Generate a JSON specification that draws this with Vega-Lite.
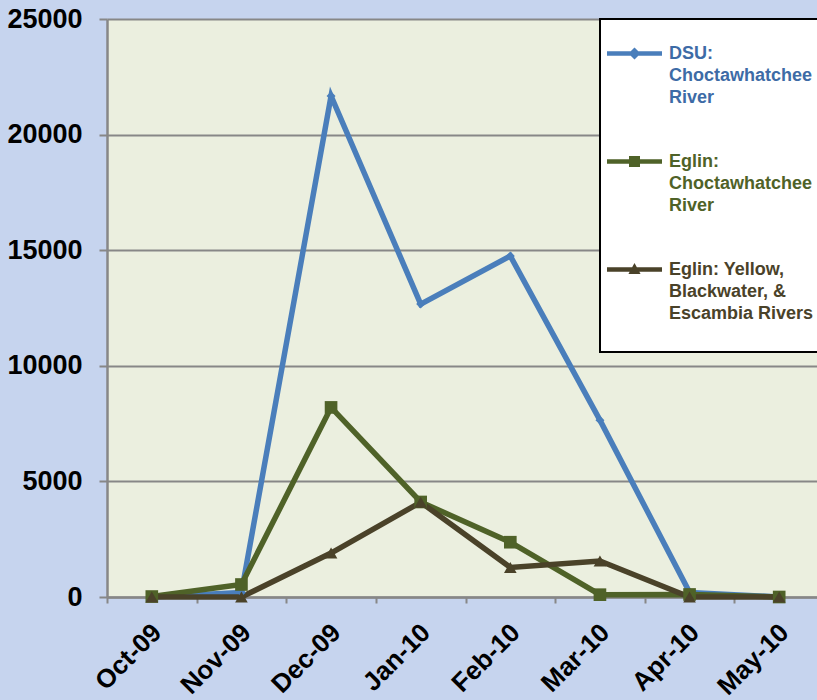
{
  "$schema": "https://vega.github.io/schema/vega-lite/v6.json",
  "width": 717,
  "height": 578,
  "autosize": "none",
  "padding": {"left": 107, "top": 19, "right": 0, "bottom": 103},
  "background": "#C6D4EE",
  "view": {"fill": "#EBEFDF", "stroke": null},
  "config": {
    "font": "Liberation Sans"
  },
  "data": {
    "values": [
      {"month": "Oct-09", "series": "DSU: Choctawhatchee River", "value": 0},
      {"month": "Nov-09", "series": "DSU: Choctawhatchee River", "value": 200},
      {"month": "Dec-09", "series": "DSU: Choctawhatchee River", "value": 21670},
      {"month": "Jan-10", "series": "DSU: Choctawhatchee River", "value": 12670},
      {"month": "Feb-10", "series": "DSU: Choctawhatchee River", "value": 14750},
      {"month": "Mar-10", "series": "DSU: Choctawhatchee River", "value": 7650},
      {"month": "Apr-10", "series": "DSU: Choctawhatchee River", "value": 200},
      {"month": "May-10", "series": "DSU: Choctawhatchee River", "value": 0},
      {"month": "Oct-09", "series": "Eglin: Choctawhatchee River", "value": 20},
      {"month": "Nov-09", "series": "Eglin: Choctawhatchee River", "value": 540},
      {"month": "Dec-09", "series": "Eglin: Choctawhatchee River", "value": 8200},
      {"month": "Jan-10", "series": "Eglin: Choctawhatchee River", "value": 4110},
      {"month": "Feb-10", "series": "Eglin: Choctawhatchee River", "value": 2370},
      {"month": "Mar-10", "series": "Eglin: Choctawhatchee River", "value": 100},
      {"month": "Apr-10", "series": "Eglin: Choctawhatchee River", "value": 110},
      {"month": "May-10", "series": "Eglin: Choctawhatchee River", "value": 0},
      {"month": "Oct-09", "series": "Eglin: Yellow, Blackwater, & Escambia Rivers", "value": 0},
      {"month": "Nov-09", "series": "Eglin: Yellow, Blackwater, & Escambia Rivers", "value": 0},
      {"month": "Dec-09", "series": "Eglin: Yellow, Blackwater, & Escambia Rivers", "value": 1900},
      {"month": "Jan-10", "series": "Eglin: Yellow, Blackwater, & Escambia Rivers", "value": 4100},
      {"month": "Feb-10", "series": "Eglin: Yellow, Blackwater, & Escambia Rivers", "value": 1280},
      {"month": "Mar-10", "series": "Eglin: Yellow, Blackwater, & Escambia Rivers", "value": 1560},
      {"month": "Apr-10", "series": "Eglin: Yellow, Blackwater, & Escambia Rivers", "value": 0},
      {"month": "May-10", "series": "Eglin: Yellow, Blackwater, & Escambia Rivers", "value": 0}
    ]
  },
  "encoding": {
    "x": {
      "field": "month",
      "type": "ordinal",
      "sort": ["Oct-09", "Nov-09", "Dec-09", "Jan-10", "Feb-10", "Mar-10", "Apr-10", "May-10"],
      "bandPosition": 0.5,
      "scale": {"type": "band", "paddingInner": 0, "paddingOuter": 0},
      "axis": {
        "title": null,
        "labelAngle": -45,
        "labelAlign": "right",
        "labelBaseline": "middle",
        "labelFontSize": 26,
        "labelFontWeight": "bold",
        "labelColor": "black",
        "labelPadding": 25,
        "labelOffset": 5,
        "tickBand": "extent",
        "tickSize": 6,
        "tickWidth": 2,
        "tickColor": "#878787",
        "domainColor": "#878787",
        "domainWidth": 2.5,
        "grid": false
      }
    },
    "y": {
      "field": "value",
      "type": "quantitative",
      "scale": {"domain": [0, 25000], "nice": false},
      "axis": {
        "title": null,
        "values": [0, 5000, 10000, 15000, 20000, 25000],
        "format": "d",
        "labelFontSize": 27,
        "labelFontWeight": "bold",
        "labelColor": "black",
        "labelPadding": 17,
        "tickSize": 8,
        "tickWidth": 2,
        "tickColor": "#878787",
        "domainColor": "#878787",
        "domainWidth": 2.5,
        "grid": true,
        "gridColor": "#878787",
        "gridWidth": 2
      }
    },
    "color": {
      "field": "series",
      "type": "nominal",
      "scale": {
        "domain": ["DSU: Choctawhatchee River", "Eglin: Choctawhatchee River", "Eglin: Yellow, Blackwater, & Escambia Rivers"],
        "range": ["#4A7EBB", "#4F6228", "#4A4229"]
      },
      "legend": {
        "orient": "none",
        "legendX": 493,
        "legendY": 0,
        "title": null,
        "padding": 7,
        "fillColor": "white",
        "strokeColor": "black",
        "labelFontSize": 18,
        "labelFontWeight": "bold",
        "labelLimit": 0,
        "labelOffset": 7,
        "labelBaseline": "middle",
        "rowPadding": 27,
        "symbolSize": 3025,
        "symbolStrokeWidth": 0,
        "labelExpr": "datum.label == 'DSU: Choctawhatchee River' ? ['DSU:', 'Choctawhatchee', 'River'] : datum.label == 'Eglin: Choctawhatchee River' ? ['Eglin:', 'Choctawhatchee', 'River'] : ['Eglin: Yellow,', 'Blackwater, &', 'Escambia Rivers', ' ']",
        "encode": {
          "legend": {"update": {"strokeWidth": {"value": 2}}},
          "symbols": {
            "update": {
              "shape": {"signal": "datum.value == 'DSU: Choctawhatchee River' ? 'M-1,-0.085H1V0.085H-1Z M0,-0.22L0.22,0L0,0.22L-0.22,0Z' : datum.value == 'Eglin: Choctawhatchee River' ? 'M-1,-0.085H1V0.085H-1Z M-0.2,-0.2H0.2V0.2H-0.2Z' : 'M-1,-0.085H1V0.085H-1Z M0,-0.24L0.22,0.16H-0.22Z'"},
              "fill": {"signal": "scale('color', datum.value)"},
              "size": {"value": 3025},
              "strokeWidth": {"value": 0}
            }
          },
          "labels": {
            "update": {
              "fill": {"signal": "datum.value == 'DSU: Choctawhatchee River' ? '#3D6BA6' : datum.value == 'Eglin: Choctawhatchee River' ? '#4F6228' : '#4A4229'"},
              "lineHeight": {"value": 22}
            }
          }
        }
      }
    }
  },
  "layer": [
    {
      "mark": {"type": "line", "strokeWidth": 5.5, "strokeJoin": "miter"}
    },
    {
      "transform": [{"filter": "datum.series == 'DSU: Choctawhatchee River'"}],
      "mark": {"type": "point", "filled": true, "opacity": 1, "shape": "diamond", "size": 80}
    },
    {
      "transform": [{"filter": "datum.series == 'Eglin: Choctawhatchee River'"}],
      "mark": {"type": "point", "filled": true, "opacity": 1, "shape": "square", "size": 160}
    },
    {
      "transform": [{"filter": "datum.series == 'Eglin: Yellow, Blackwater, & Escambia Rivers'"}],
      "mark": {"type": "point", "filled": true, "opacity": 1, "shape": "triangle-up", "size": 160}
    }
  ]
}
